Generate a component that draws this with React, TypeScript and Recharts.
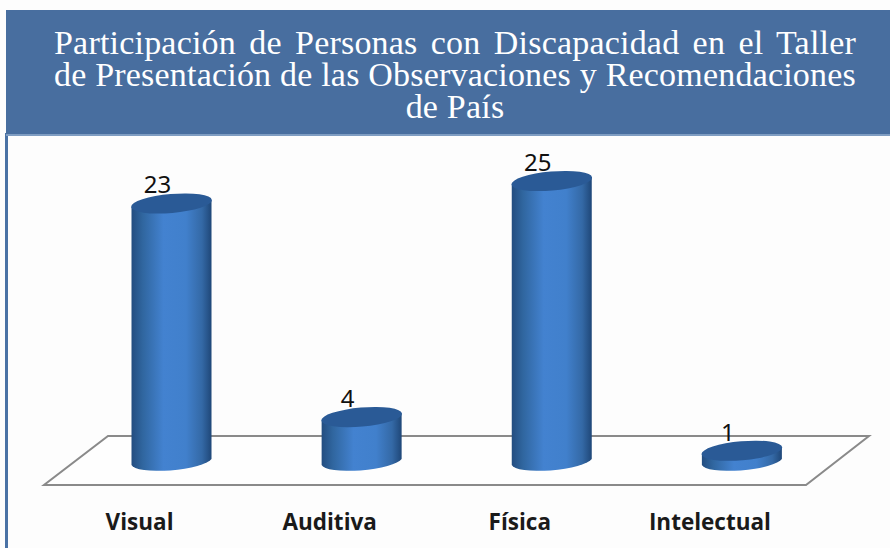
import { BarChart, Bar, XAxis, YAxis, LabelList } from "recharts";

const categories = ["Visual", "Auditiva", "Física", "Intelectual"];
const values = [23, 4, 25, 1];
const title =
  "Participación de Personas con Discapacidad en el Taller de Presentación de las Observaciones y Recomendaciones de País";

const data = categories.map((name, i) => ({ name, value: values[i] }));

const Cylinder = (props: any) => {
  const { x, y, width, height } = props;
  const cx = x + width / 2;
  const bottom = y + height;
  const left = x;
  const right = x + width;
  return (
    <g>
      <path
        d={`M${left},${y + 3.5} L${left},${bottom + 3} A40.5,9.5 -5 0 0 ${right},${bottom - 3} L${right},${y - 3.5} Z`}
        fill="url(#cyl)"
      />
      <ellipse cx={cx} cy={y} rx={40.5} ry={9.5} transform={`rotate(-5 ${cx} ${y})`} fill="#2a5a96" />
    </g>
  );
};

const CategoryTick = ({ x, y, payload }: any) => (
  <text
    x={x - 32}
    y={y + 60}
    textAnchor="middle"
    fontFamily="'Open Sans', sans-serif"
    fontWeight={700}
    fontSize={22.5}
    fill="#1a1a1a"
  >
    {payload.value}
  </text>
);

const ValueLabel = ({ x, y, width, value }: any) => (
  <text
    x={x + width / 2 - 14}
    y={y - 10}
    textAnchor="middle"
    fontFamily="'Noto Sans', sans-serif"
    fontSize={24}
    fill="#111"
  >
    {value}
  </text>
);

export default function App() {
  return (
    <div style={{ position: "absolute", left: 0, top: 0, width: 890, height: 548, background: "#fdfdfd", overflow: "hidden" }}>
      <div style={{ position: "absolute", left: 5, top: 133, width: 2.5, height: 415, background: "#4a72a5" }} />
      <div
        style={{
          position: "absolute",
          left: 6,
          top: 10,
          width: 884,
          height: 124,
          background: "#486e9f",
          borderBottom: "2px solid #7f9dc2",
        }}
      />
      <div
        style={{
          position: "absolute",
          left: 54,
          top: 27,
          width: 802,
          color: "#fff",
          fontFamily: "'Liberation Serif', serif",
          fontSize: 34,
          lineHeight: "32px",
          letterSpacing: 0.2,
          textAlign: "justify",
          textAlignLast: "center",
        }}
      >
        {title}
      </div>
      <div style={{ position: "absolute", left: 0, top: 0 }}>
        <BarChart width={890} height={548} data={data} margin={{ top: 181, right: 53, bottom: 26, left: 76.5 }}>
          <defs>
            <linearGradient id="cyl" x1="0" y1="0" x2="1" y2="0">
              <stop offset="0%" stopColor="#234d80" />
              <stop offset="14%" stopColor="#30669f" />
              <stop offset="40%" stopColor="#4382d0" />
              <stop offset="68%" stopColor="#4180cc" />
              <stop offset="88%" stopColor="#3469a6" />
              <stop offset="100%" stopColor="#1f4778" />
            </linearGradient>
          </defs>
          <polygon points="44,485 806,485 869,436 108,436" fill="#fefefe" stroke="#8a8a8a" strokeWidth={2} />
          <XAxis dataKey="name" axisLine={false} tickLine={false} height={60} interval={0} tick={<CategoryTick />} />
          <YAxis hide domain={[0, 25]} />
          <Bar dataKey="value" barSize={80} isAnimationActive={false} shape={<Cylinder />}>
            <LabelList dataKey="value" content={<ValueLabel />} />
          </Bar>
        </BarChart>
      </div>
    </div>
  );
}
